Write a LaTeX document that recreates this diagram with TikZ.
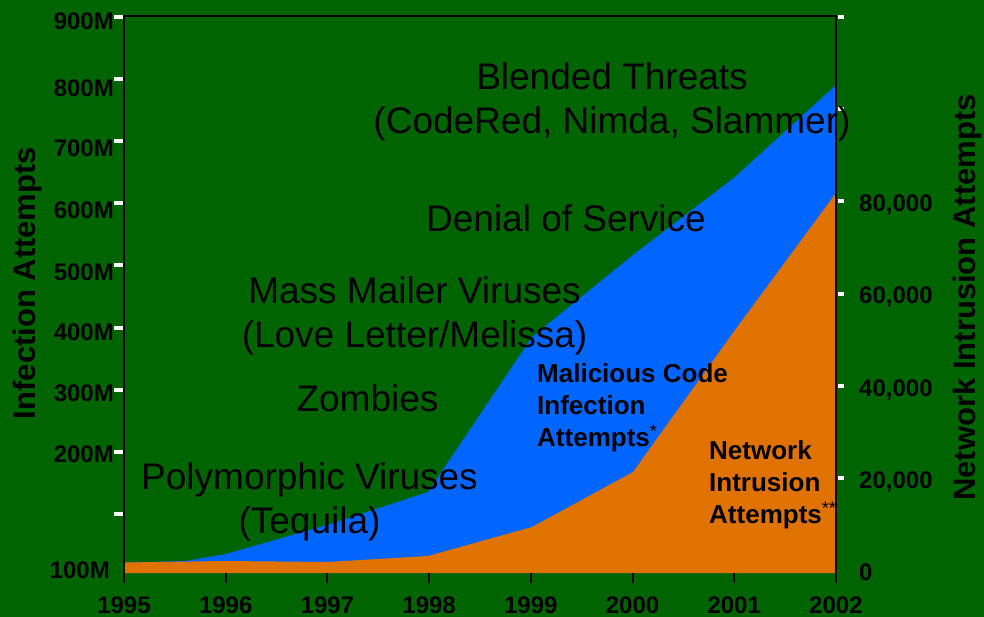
\documentclass[tikz,border=0pt]{standalone}
\usepackage{fontspec}
\setmainfont{Liberation Sans}
\usetikzlibrary{positioning}
\definecolor{chartgreen}{RGB}{0,100,0}
\definecolor{infblue}{RGB}{0,102,255}
\definecolor{intorange}{RGB}{224,114,0}

\begin{document}
\begin{tikzpicture}[x=1pt, y=-1pt,
   numlbl/.style = {font=\fontsize{24}{28}\selectfont\bfseries, inner sep=0pt},
   threat/.style = {font=\fontsize{37}{44}\selectfont, inner sep=0pt, anchor=base},
   series/.style = {font=\fontsize{26}{32}\selectfont\bfseries, inner sep=0pt, anchor=base west},
  axtitle/.style = {font=\fontsize{31}{36}\selectfont\bfseries, inner sep=0pt, anchor=base, rotate=90},
  whitetick/.style = {white, line width=4pt}
                    ]
\useasboundingbox (0,0) rectangle (984,617);
\fill[chartgreen] (0,0) rectangle (984,617);

% areas
\fill[infblue] (124,573) -- (124,562.5) -- (185,561) -- (226,554) -- (327,525) -- (428,492) -- (532,337)
      -- (633,255) -- (735,177) -- (836,85) -- (836,573) -- cycle;
\fill[intorange] (124,573) -- (124,562.5) -- (226,561) -- (327,562) -- (428,556) -- (532,527)
      -- (633,472) -- (735,330) -- (836,193) -- (836,573) -- cycle;

% frame and ticks
\draw[line width=2.6pt] (124,583) -- (124,16) -- (836,16) -- (836,583);
\foreach \k in {0,...,8}
    \draw[whitetick] (114,16.7+62.2*\k) -- (123,16.7+62.2*\k);
\foreach \k in {0,...,5}
    \draw[whitetick] (837.5,16.7+92.3*\k) -- (844,16.7+92.3*\k);

% left axis
\foreach \v/\b in {900/30, 800/97, 700/157, 600/219, 500/280, 400/340.5, 300/401, 200/462}
    \node[numlbl, anchor=base east] (l\v) at (114,\b) {\v M};
\node[numlbl, anchor=base east] (l100) at (110,578) {100M};
\node[axtitle] (infaxis) at (35,283) {Infection Attempts};

% right axis
\foreach \n/\b in {80/212, 60/303, 40/396, 20/488}
    \node[numlbl, anchor=base west] (r\n) at (859,\b) {\n,000};
\node[numlbl, anchor=base west] (r0) at (859,580) {0};
\node[axtitle] (netaxis) at (975,297.5) {Network Intrusion Attempts};

% years
\foreach \yr [count=\i from 0] in {1995,...,2002} {
    \draw[line width=2pt] (124+101.7*\i,573) -- (124+101.7*\i,583);
    \node[numlbl, anchor=base] (y\yr) at (124+101.7*\i,613) {\yr};
}

% threats
\node[threat] (blend)   at (612,89.5) {Blended Threats};
\node[threat] (blendex) at ([yshift=-44pt]blend.base) {(CodeRed, Nimda, Slammer)};
\node[threat] (dos)     at (566,232) {Denial of Service};
\node[threat] (mass)    at (414.5,303) {Mass Mailer Viruses};
\node[threat] (massex)  at ([yshift=-44pt]mass.base) {(Love Letter/Melissa)};
\node[threat] (zomb)    at (367.5,411) {Zombies};
\node[threat] (poly)    at (309.5,489) {Polymorphic Viruses};
\node[threat] (polyex)  at ([yshift=-44pt]poly.base) {(Tequila)};

% series
\node[series] (mal1) at (537,382.7) {Malicious Code};
\node[series] (mal2) at ([yshift=-32pt]mal1.base west) {Infection};
\node[series] (mal3) at ([yshift=-32pt]mal2.base west) {Attempts\textsuperscript{\mdseries*}};
\node[series] (net1) at (709,459.3) {Network};
\node[series] (net2) at ([yshift=-32pt]net1.base west) {Intrusion};
\node[series] (net3) at ([yshift=-32pt]net2.base west) {Attempts\textsuperscript{\mdseries**}};
\end{tikzpicture}
\end{document}
